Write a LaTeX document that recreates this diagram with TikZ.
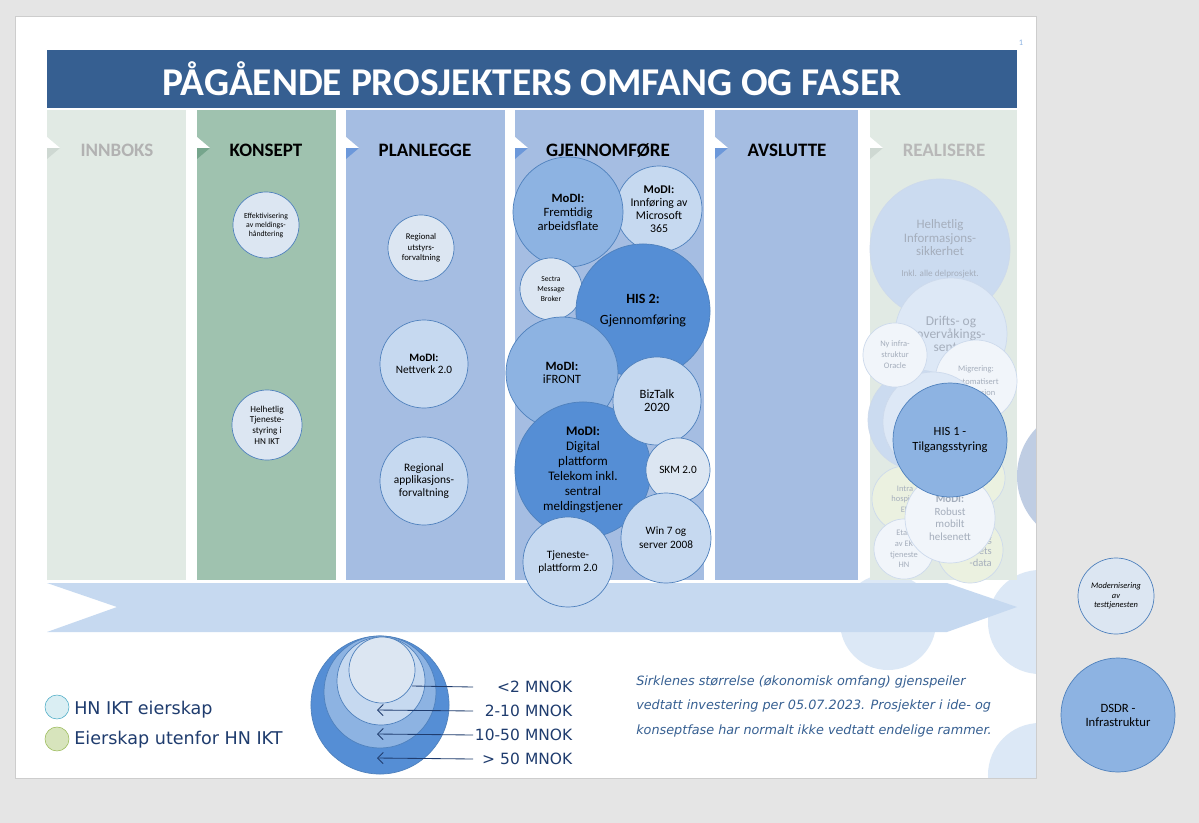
\documentclass[tikz,border=0pt]{standalone}
\usepackage{fontspec}
\setmainfont{Carlito}
\newfontfamily\verdana{DejaVu Sans}[ItalicFont={DejaVu Sans Oblique}]
\usetikzlibrary{arrows.meta}

\definecolor{pagegrey}{RGB}{229,229,229}
\definecolor{pageedge}{RGB}{205,205,205}
\definecolor{titleblue}{RGB}{54,95,145}
\definecolor{colgrey}{RGB}{225,234,228}
\definecolor{colgreydark}{RGB}{206,216,210}
\definecolor{colgreen}{RGB}{159,194,175}
\definecolor{colgreendark}{RGB}{118,165,140}
\definecolor{colblue}{RGB}{165,189,226}
\definecolor{colbluedark}{RGB}{108,152,218}
\definecolor{band}{RGB}{198,217,240}
\definecolor{deco}{RGB}{220,232,246}
\definecolor{decogrey}{RGB}{191,205,227}
\definecolor{bubedge}{RGB}{79,129,189}
\definecolor{lvlA}{RGB}{220,230,242}
\definecolor{lvlB}{RGB}{198,217,240}
\definecolor{lvlC}{RGB}{141,179,226}
\definecolor{lvlD}{RGB}{85,142,213}
\definecolor{fadeedge}{RGB}{205,218,236}
\definecolor{fadetext}{RGB}{165,174,188}
\definecolor{fadegreen}{RGB}{235,241,224}
\definecolor{fadewhite}{RGB}{241,245,250}
\definecolor{fadeblue}{RGB}{203,219,240}
\definecolor{fadelight}{RGB}{221,232,246}
\definecolor{navy}{RGB}{31,60,110}
\definecolor{notecol}{RGB}{55,96,146}
\definecolor{hncyan}{RGB}{218,238,243}
\definecolor{hncyanedge}{RGB}{75,172,198}
\definecolor{extgreen}{RGB}{215,228,188}
\definecolor{extgreenedge}{RGB}{155,187,89}

\tikzset{
  fs/.style 2 args={font=\fontsize{#1}{#2}\selectfont},
  bub/.style={circle, draw=bubedge, line width=0.5pt, inner sep=0pt, align=center,
              text=black, minimum size={#1*0.05cm}},
  fade/.style={circle, draw=fadeedge, line width=0.5pt, inner sep=0pt, align=center,
               text=fadetext, minimum size={#1*0.05cm}},
  hdr/.style={anchor=base, font=\fontsize{13.5}{14}\selectfont\bfseries},
  sizelbl/.style={anchor=west, inner sep=0pt, text width=2.475cm, align=right,
                  text=navy, font=\verdana\fontsize{11}{12}\selectfont},
  legtext/.style={anchor=west, inner sep=0pt, text=navy, font=\verdana\fontsize{12.5}{13}\selectfont},
  legline/.style={draw=navy, line width=0.6pt}
}

\begin{document}
\begin{tikzpicture}[x=0.025cm,y=-0.025cm]
  \useasboundingbox (0,0) rectangle (1199,823);
  \fill[white] (15,16) rectangle (1036,778);

  % bakgrunnssirkler
  \fill[decogrey] (1086,476) circle (1.725cm);
  \fill[deco] (888,622) circle (1.2cm);
  \fill[deco] (1040,622) circle (1.3cm);
  \fill[deco] (1040,775) circle (1.3cm);

  % alt utenfor siden
  \fill[pagegrey] (1036,0) rectangle (1199,823);
  \fill[pagegrey] (0,778) rectangle (1199,823);
  \fill[pagegrey] (0,0) rectangle (1199,16);
  \fill[pagegrey] (0,0) rectangle (15,823);
  \draw[pageedge,line width=0.6pt] (15,16) rectangle (1036,778);

  \node[text=lvlC, fs={6}{7}] (pagenr) at (1021,43) {1};
  \node[fill=titleblue, minimum width=24.25cm, minimum height=1.45cm, inner sep=0pt,
        text=white, font=\fontsize{28}{30}\selectfont\bfseries] (title) at (532,79)
        {PÅGÅENDE PROSJEKTERS OMFANG OG FASER};

  % faser
  \fill[colgrey] (47,110) rectangle (186,580);
  \fill[colgreen] (197,110) rectangle (336,580);
  \fill[colblue] (346,110) rectangle (505,580);
  \fill[colblue] (515,110) rectangle (704,580);
  \fill[colblue] (715,110) rectangle (858,580);
  \fill[colgrey] (870,110) rectangle (1017,580);

  \fill[white] (47,137) -- (60,148) -- (47,148) -- cycle;
  \fill[colgreydark] (47,148) -- (60,148) -- (47,159) -- cycle;
  \fill[white] (197,137) -- (210,148) -- (197,148) -- cycle;
  \fill[colgreendark] (197,148) -- (210,148) -- (197,159) -- cycle;
  \fill[white] (346,137) -- (359,148) -- (346,148) -- cycle;
  \fill[colbluedark] (346,148) -- (359,148) -- (346,159) -- cycle;
  \fill[white] (515,137) -- (528,148) -- (515,148) -- cycle;
  \fill[colbluedark] (515,148) -- (528,148) -- (515,159) -- cycle;
  \fill[white] (715,137) -- (728,148) -- (715,148) -- cycle;
  \fill[colbluedark] (715,148) -- (728,148) -- (715,159) -- cycle;
  \fill[white] (870,137) -- (883,148) -- (870,148) -- cycle;
  \fill[colgreydark] (870,148) -- (883,148) -- (870,159) -- cycle;

  \node[hdr, text=black!30] (innboks) at (117,156) {INNBOKS};
  \node[hdr] (konsept) at (266,156) {KONSEPT};
  \node[hdr] (planlegge) at (425,156) {PLANLEGGE};
  \node[hdr] (gjennomfore) at (608,156) {GJENNOMFØRE};
  \node[hdr] (avslutte) at (787,156) {AVSLUTTE};
  \node[hdr, text=black!28] (realisere) at (944,156) {REALISERE};

  \fill[band] (47,583) -- (947,583) -- (1017,607) -- (947,632) -- (47,632) -- (117,607) -- cycle;

  % konsept
  \node[bub=33, fill=lvlA, fs={5.5}{6.4}] (meldhandt) at (266,225)
    {Effektivisering\\av meldings-\\håndtering};
  \node[bub=35, fill=lvlA, fs={6.5}{7.6}] (tjstyring) at (267,425)
    {Helhetlig\\Tjeneste-\\styring i\\HN IKT};

  % planlegge
  \node[bub=33, fill=lvlA, fs={6.2}{7.5}] (utstyr) at (421,248)
    {Regional\\utstyrs-\\forvaltning};
  \node[bub=44, fill=lvlB, fs={8}{8.6}] (nettverk) at (424,364)
    {\textbf{MoDI:}\\Nettverk 2.0};
  \node[bub=44, fill=lvlB, fs={8.1}{9}] (applik) at (424,481)
    {Regional\\applikasjons-\\forvaltning};

  % gjennomfore
  \node[bub=43, fill=lvlB, fs={8.4}{9.3}] (m365) at (659,209)
    {\textbf{MoDI:}\\Innføring av\\Microsoft\\365};
  \node[bub=55, fill=lvlC, fs={9}{10}] (arbflate) at (568,212)
    {\textbf{MoDI:}\\Fremtidig\\arbeidsflate};
  \node[bub=31, fill=lvlA, fs={5.4}{7}] (sectra) at (551,289)
    {Sectra\\Message\\Broker};
  \node[bub=67, fill=lvlD, fs={10}{11}] (his2) at (643,311)
    {\textbf{HIS 2:}\\[4pt]Gjennomføring};
  \node[bub=56, fill=lvlC, fs={9}{9.3}] (ifront) at (562,373)
    {\textbf{MoDI:}\\iFRONT};
  \node[bub=68, fill=lvlD, fs={9.3}{10.7}] (digital) at (583,470)
    {\textbf{MoDI:}\\Digital\\plattform\\Telekom inkl.\\sentral\\meldingstjener};
  \node[bub=44, fill=lvlB, fs={9}{9.3}] (biztalk) at (657,401)
    {BizTalk\\2020};
  \node[bub=32, fill=lvlA, fs={8}{9}] (skm) at (678,470) {SKM 2.0};
  \node[bub=45, fill=lvlB, fs={8}{10}] (win7) at (666,538)
    {Win 7 og\\server 2008};
  \node[bub=45, fill=lvlB, fs={8}{8.6}] (tjplatt) at (568,562)
    {Tjeneste-\\plattform 2.0};

  % realisere
  \node[fade=70, fill=fadeblue, fs={9.2}{9.6}] (infosik) at (940,249)
    {Helhetlig\\Informasjons-\\sikkerhet\\[5pt]{\fontsize{6.5}{7}\selectfont Inkl. alle delprosjekt.}};
  \node[fade=56, fill=fadelight, fs={9.6}{9.4}] (drift) at (951,334)
    {Drifts- og\\overvåkings-\\senter};
  \node[fade=41, fill=fadewhite, fs={6}{7.5}] (migr) at (976,381)
    {Migrering:\\[2pt]Automatisert\\installasjon};
  \node[fade=50, fill=fadeblue] (bakA) at (918,420) {};
  \node[fade=50, fill=fadelight] (bakB) at (933,422) {};
  \node[fade=32, fill=fadewhite, fs={6}{7.8}] (nyinfra) at (895,355)
    {Ny infra-\\struktur\\Oracle};
  \node[fade=33, fill=fadegreen, fs={6}{7.6}] (intra) at (905,499)
    {Intra\\hospital\\EK};
  \node[fade=30, fill=fadegreen] (gronnB) at (975,478) {};
  \node[fade=30, fill=fadewhite, fs={6}{7.6}] (etab) at (904,549)
    {Etab\\av EK\\tjeneste\\HN};
  \node[fade=33, fill=fadegreen] (deling) at (970,550) {};
  \node[anchor=east, align=right, inner sep=0pt, text=fadetext, fs={7.5}{8.8}] (delingtxt) at (992,552)
    {g\\tets\\-data\hspace{1.2em}};
  \node[fade=45, fill=fadewhite, fs={7.8}{9.2}] (robust) at (950,518)
    {\textbf{MoDI:}\\Robust\\mobilt\\helsenett};
  \node[bub=57, fill=lvlC, fs={8.9}{10}] (his1) at (950,440)
    {HIS 1 -\\Tilgangsstyring};

  % utenfor
  \node[bub=38, fill=lvlA, font=\itshape\fontsize{6}{6.6}\selectfont] (testtj) at (1116,596)
    {Modernisering\\av\\testtjenesten};
  \node[bub=57, fill=lvlC, fs={9}{10}] (dsdr) at (1118,715)
    {DSDR -\\Infrastruktur};

  % eierskap
  \node[circle, draw=hncyanedge, fill=hncyan, minimum size=0.6cm, inner sep=0pt] (hnikt) at (57,707) {};
  \node[legtext] (hnikttxt) at (74,710) {HN IKT eierskap};
  \node[circle, draw=extgreenedge, fill=extgreen, minimum size=0.6cm, inner sep=0pt] (utenfor) at (57,739) {};
  \node[legtext] (utenfortxt) at (74,740) {Eierskap utenfor HN IKT};

  % storrelse
  \node[bub=69, fill=lvlD] (sizeD) at (380,705) {};
  \node[bub=56, fill=lvlC] (sizeC) at (380,692) {};
  \node[bub=44, fill=lvlB] (sizeB) at (381,681) {};
  \node[bub=33, fill=lvlA] (sizeA) at (382,670) {};

  \coordinate (tipA) at (412,686);
  \coordinate (tipB) at (377,710);
  \coordinate (tipC) at (377,734);
  \coordinate (tipD) at (377,758);

  \node[sizelbl] (lblA) at (473,687) {<2 MNOK};
  \node[sizelbl] (lblB) at (473,711) {2-10 MNOK};
  \node[sizelbl] (lblC) at (473,735) {10-50 MNOK};
  \node[sizelbl] (lblD) at (473,759) {> 50 MNOK};

  \draw[legline] (lblA.west) -- (tipA);
  \draw[legline,-{Straight Barb[length=4pt,width=8pt]}] (lblB.west) -- (tipB);
  \draw[legline,-{Straight Barb[length=4pt,width=8pt]}] (lblC.west) -- (tipC);
  \draw[legline,-{Straight Barb[length=4pt,width=8pt]}] (lblD.west) -- (tipD);

  \node[anchor=west, align=left, inner sep=0pt, text=notecol,
        font=\verdana\itshape\fontsize{9.1}{17.4}\selectfont] (note) at (636,706)
    {Sirklenes størrelse (økonomisk omfang) gjenspeiler\\
     vedtatt investering per 05.07.2023. Prosjekter i ide- og\\
     konseptfase har normalt ikke vedtatt endelige rammer.};
\end{tikzpicture}
\end{document}
